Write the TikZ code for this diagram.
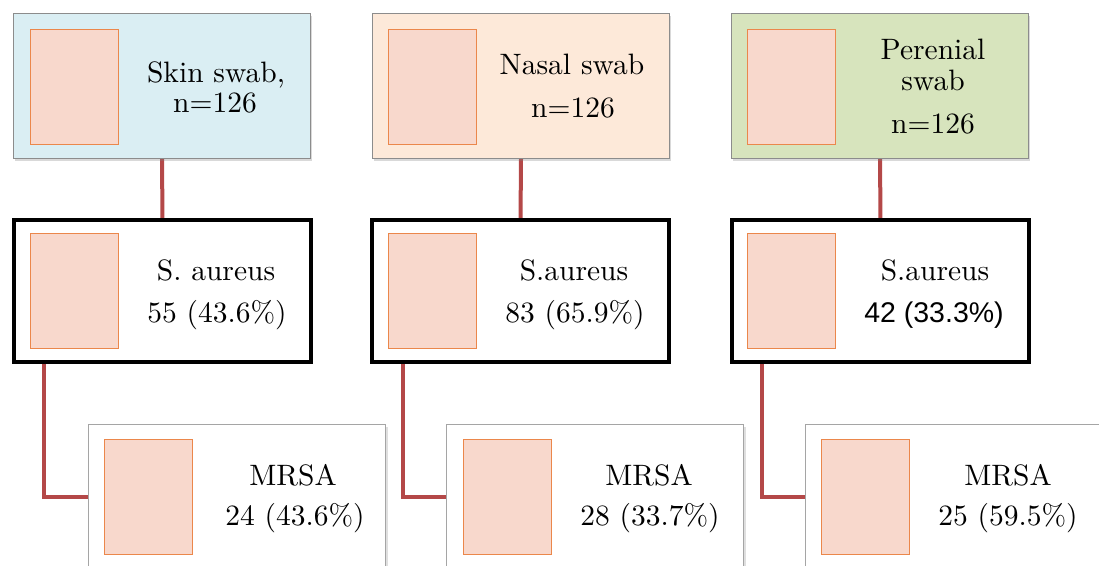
\documentclass[tikz,border=0pt]{standalone}
\usepackage{fontspec}
\newfontfamily\arialfont{Liberation Sans}
\usetikzlibrary{shadows,backgrounds}
\definecolor{blueF}{RGB}{218,238,243}
\definecolor{orangeF}{RGB}{253,233,217}
\definecolor{greenF}{RGB}{215,228,189}
\definecolor{sqF}{RGB}{248,216,204}
\definecolor{sqD}{RGB}{235,135,75}
\definecolor{connC}{RGB}{180,72,72}
\definecolor{grayD}{RGB}{140,140,140}
\definecolor{grayL}{RGB}{165,165,165}
\begin{document}
\begin{tikzpicture}[x=1pt,y=-1pt,
  topbox/.style={draw=grayD, line width=1pt, minimum width=297pt, minimum height=145pt, anchor=north west, inner sep=0pt, outer sep=0pt,
    drop shadow={opacity=0.3, shadow xshift=1.5pt, shadow yshift=-2pt}},
  midbox/.style={draw=black, fill=white, line width=4pt, minimum width=297pt, minimum height=142pt, anchor=north west, inner sep=0pt, outer sep=0pt},
  botbox/.style={draw=grayL, fill=white, line width=1.2pt, minimum width=297pt, minimum height=145pt, anchor=north west, inner sep=0pt, outer sep=0pt,
    drop shadow={opacity=0.25, shadow xshift=2pt, shadow yshift=-2pt}},
  sq/.style={draw=sqD, fill=sqF, line width=0.9pt, minimum width=88pt, minimum height=115pt, anchor=north west, inner sep=0pt, outer sep=0pt},
  txt/.style={anchor=base, inner sep=0pt, font=\fontsize{10}{12}\selectfont, scale=2.95, transform shape},
  stxt/.style={anchor=base, inner sep=0pt, font=\fontsize{10}{12}\selectfont\arialfont, scale=2.85, transform shape},
  conn/.style={draw=connC, line width=4pt}
]
\useasboundingbox (0,0) rectangle (1099,565);
\clip (0,0) rectangle (1099,565);

% top row
\node[topbox, fill=blueF]   (s1) at (13.5,13.5) {};
\node[topbox, fill=orangeF] (s2) at (372.5,13.5) {};
\node[topbox, fill=greenF]  (s3) at (731.5,13.5) {};
\node[sq] (q1) at (30.5,29.5) {};
\node[sq] (q2) at (388.5,29.5) {};
\node[sq] (q3) at (747.5,29.5) {};
\node[txt] (t1a) at (216,82) {Skin swab,};
\node[txt] (t1b) at (215,112) {n=126};
\node[txt] (t2a) at (572,74) {Nasal swab};
\node[txt] (t2b) at (573,117) {n=126};
\node[txt] (t3a) at (933,59) {Perenial};
\node[txt] (t3b) at (933,90) {swab};
\node[txt] (t3c) at (933,133) {n=126};

% middle row
\node[midbox] (m1) at (14,220) {};
\node[midbox] (m2) at (372,220) {};
\node[midbox] (m3) at (732,220) {};
\node[sq] (r1) at (30.5,233.5) {};
\node[sq] (r2) at (388.5,233.5) {};
\node[sq] (r3) at (747.5,233.5) {};
\node[txt] (u1a) at (216,280) {S. aureus};
\node[txt] (u1b) at (217,322) {55 (43.6\%)};
\node[txt] (u2a) at (574,280) {S.aureus};
\node[txt] (u2b) at (575,322) {83 (65.9\%)};
\node[txt] (u3a) at (935,280) {S.aureus};
\node[stxt] (u3b) at (934,322) {42 (33.3\%)};

% bottom row
\node[botbox] (b1) at (88.5,424.5) {};
\node[botbox] (b2) at (446.5,424.5) {};
\node[botbox] (b3) at (805.5,424.5) {};
\node[sq] (p1) at (104.5,439.5) {};
\node[sq] (p2) at (463.5,439.5) {};
\node[sq] (p3) at (821.5,439.5) {};
\node[txt] (v1a) at (293,485) {MRSA};
\node[txt] (v1b) at (295,525) {24 (43.6\%)};
\node[txt] (v2a) at (649,485) {MRSA};
\node[txt] (v2b) at (650,525) {28 (33.7\%)};
\node[txt] (v3a) at (1008,485) {MRSA};
\node[txt] (v3b) at (1008,525) {25 (59.5\%)};

% connectors
\begin{pgfonlayer}{background}
\draw[conn] (s1.south) -- (m1.north);
\draw[conn] (s2.south) -- (m2.north);
\draw[conn] (s3.south) -- (m3.north);
\draw[conn] ([xshift=29.5pt]m1.south west) |- (b1.west);
\draw[conn] ([xshift=31pt]m2.south west) |- (b2.west);
\draw[conn] ([xshift=29.5pt]m3.south west) |- (b3.west);
\end{pgfonlayer}
\end{tikzpicture}
\end{document}
